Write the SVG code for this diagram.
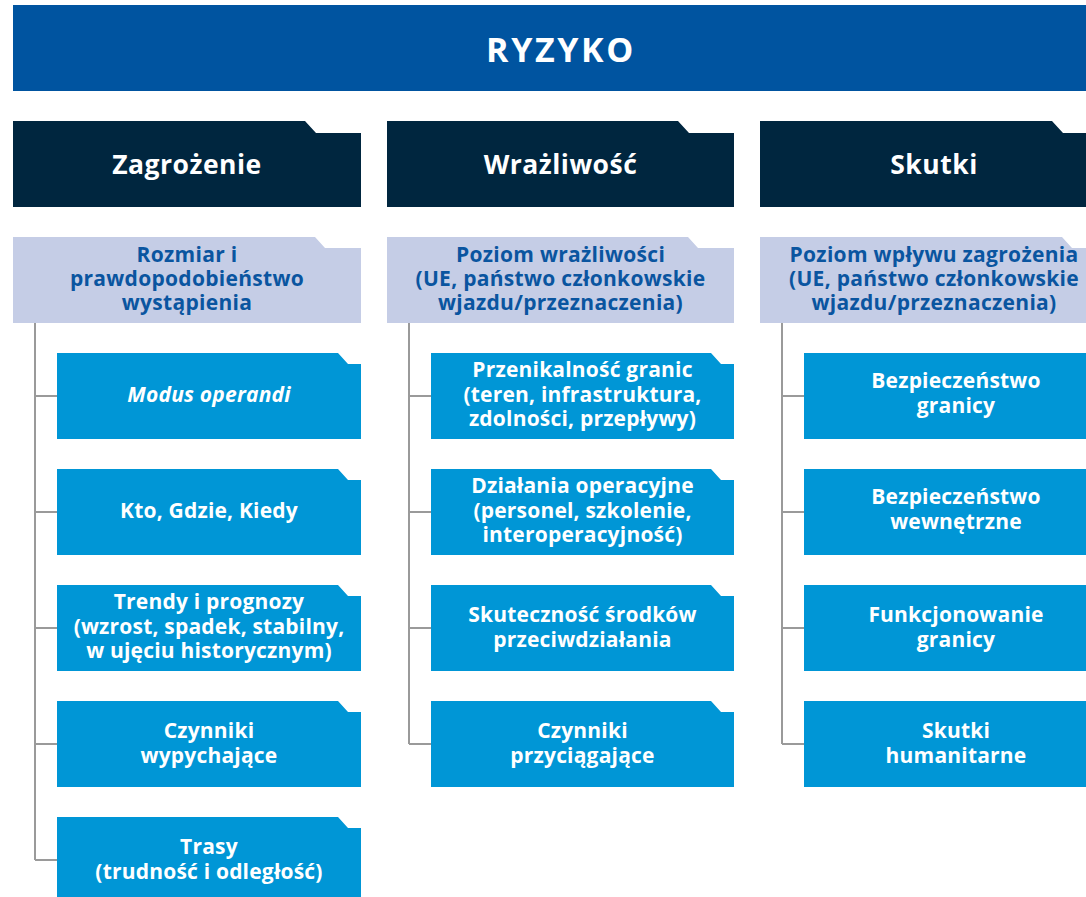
<svg xmlns="http://www.w3.org/2000/svg" width="1086" height="897" viewBox="0 0 1086 897">
<style>
text{font-family:"Open Sans","Noto Sans","DejaVu Sans",sans-serif;font-weight:700;text-anchor:middle}
.title{fill:#0054a0}
.tt{fill:#fff;font-size:34px;letter-spacing:2.6px}
.hd{fill:#00263f}
.ht{fill:#fff;font-size:26.5px;letter-spacing:0.5px}
.lt{fill:#c5cde6}
.ltt{fill:#0a55a0;font-size:21px;letter-spacing:0.3px}
.bl{fill:#0096d6}
.bt{fill:#fff;font-size:21px;letter-spacing:0.2px}
.it{font-style:italic}
.conn{fill:none;stroke:#9a9a9a;stroke-width:2}
</style>
<g id="ryzyko">
<rect class="title" x="13" y="5" width="1095" height="86"/>
<text class="tt" x="561" y="62">RYZYKO</text>
</g>
<g id="connectors" class="conn">
<path d="M35 323 V860 M35 396 H57 M35 512 H57 M35 628 H57 M35 744 H57 M35 860 H57"/>
<path d="M409 323 V744 M409 396 H431 M409 512 H431 M409 628 H431 M409 744 H431"/>
<path d="M782 323 V744 M782 396 H804 M782 512 H804 M782 628 H804 M782 744 H804"/>
</g>
<g id="zagrozenie">
<path class="hd" d="M13 121 H305 L316 133 H361 V207 H13 Z"/>
<text class="ht" x="187" y="174">Zagrożenie</text>
</g>
<g id="wrazliwosc">
<path class="hd" d="M387 121 H678 L689 133 H734 V207 H387 Z"/>
<text class="ht" x="560.5" y="174">Wrażliwość</text>
</g>
<g id="skutki">
<path class="hd" d="M760 121 H1052 L1063 133 H1108 V207 H760 Z"/>
<text class="ht" x="934" y="174">Skutki</text>
</g>
<g id="rozmiar">
<path class="lt" d="M13 237 H315 L325 248 H361 V323 H13 Z"/>
<text class="ltt" x="187" y="262">Rozmiar i</text>
<text class="ltt" x="187" y="286">prawdopodobieństwo</text>
<text class="ltt" x="187" y="310">wystąpienia</text>
</g>
<g id="poziom-wrazliwosci">
<path class="lt" d="M387 237 H688 L698 248 H734 V323 H387 Z"/>
<text class="ltt" x="560.5" y="262">Poziom wrażliwości</text>
<text class="ltt" x="560.5" y="286">(UE, państwo członkowskie</text>
<text class="ltt" x="560.5" y="310">wjazdu/przeznaczenia)</text>
</g>
<g id="poziom-wplywu">
<path class="lt" d="M760 237 H1062 L1072 248 H1108 V323 H760 Z"/>
<text class="ltt" x="934" y="262">Poziom wpływu zagrożenia</text>
<text class="ltt" x="934" y="286">(UE, państwo członkowskie</text>
<text class="ltt" x="934" y="310">wjazdu/przeznaczenia)</text>
</g>
<g id="modus">
<path class="bl" d="M57 353 H338 L348 364 H361 V439 H57 Z"/>
<text class="bt it" x="209" y="402">Modus operandi</text>
</g>
<g id="kto">
<path class="bl" d="M57 469 H338 L348 480 H361 V555 H57 Z"/>
<text class="bt" x="209" y="518">Kto, Gdzie, Kiedy</text>
</g>
<g id="trendy">
<path class="bl" d="M57 585 H338 L348 596 H361 V671 H57 Z"/>
<text class="bt" x="209" y="609">Trendy i prognozy</text>
<text class="bt" x="209" y="633.5">(wzrost, spadek, stabilny,</text>
<text class="bt" x="209" y="658">w ujęciu historycznym)</text>
</g>
<g id="czynniki-wyp">
<path class="bl" d="M57 701 H338 L348 712 H361 V787 H57 Z"/>
<text class="bt" x="209" y="738">Czynniki</text>
<text class="bt" x="209" y="762.5">wypychające</text>
</g>
<g id="trasy">
<path class="bl" d="M57 817 H338 L348 828 H361 V903 H57 Z"/>
<text class="bt" x="209" y="854">Trasy</text>
<text class="bt" x="209" y="878.5">(trudność i odległość)</text>
</g>
<g id="przenikalnosc">
<path class="bl" d="M431 353 H711 L721 364 H734 V439 H431 Z"/>
<text class="bt" x="582.5" y="377">Przenikalność granic</text>
<text class="bt" x="582.5" y="401.5">(teren, infrastruktura,</text>
<text class="bt" x="582.5" y="426">zdolności, przepływy)</text>
</g>
<g id="dzialania">
<path class="bl" d="M431 469 H711 L721 480 H734 V555 H431 Z"/>
<text class="bt" x="582.5" y="493">Działania operacyjne</text>
<text class="bt" x="582.5" y="517.5">(personel, szkolenie,</text>
<text class="bt" x="582.5" y="542">interoperacyjność)</text>
</g>
<g id="skutecznosc">
<path class="bl" d="M431 585 H711 L721 596 H734 V671 H431 Z"/>
<text class="bt" x="582.5" y="622">Skuteczność środków</text>
<text class="bt" x="582.5" y="646.5">przeciwdziałania</text>
</g>
<g id="czynniki-przyc">
<path class="bl" d="M431 701 H711 L721 712 H734 V787 H431 Z"/>
<text class="bt" x="582.5" y="738">Czynniki</text>
<text class="bt" x="582.5" y="762.5">przyciągające</text>
</g>
<g id="bezp-granicy">
<path class="bl" d="M804 353 H1090 L1100 364 H1110 V439 H804 Z"/>
<text class="bt" x="956" y="388">Bezpieczeństwo</text>
<text class="bt" x="956" y="412.5">granicy</text>
</g>
<g id="bezp-wewn">
<path class="bl" d="M804 469 H1090 L1100 480 H1110 V555 H804 Z"/>
<text class="bt" x="956" y="504">Bezpieczeństwo</text>
<text class="bt" x="956" y="528.5">wewnętrzne</text>
</g>
<g id="funkcjonowanie">
<path class="bl" d="M804 585 H1090 L1100 596 H1110 V671 H804 Z"/>
<text class="bt" x="956" y="622">Funkcjonowanie</text>
<text class="bt" x="956" y="646.5">granicy</text>
</g>
<g id="humanitarne">
<path class="bl" d="M804 701 H1090 L1100 712 H1110 V787 H804 Z"/>
<text class="bt" x="956" y="738">Skutki</text>
<text class="bt" x="956" y="762.5">humanitarne</text>
</g>
</svg>
